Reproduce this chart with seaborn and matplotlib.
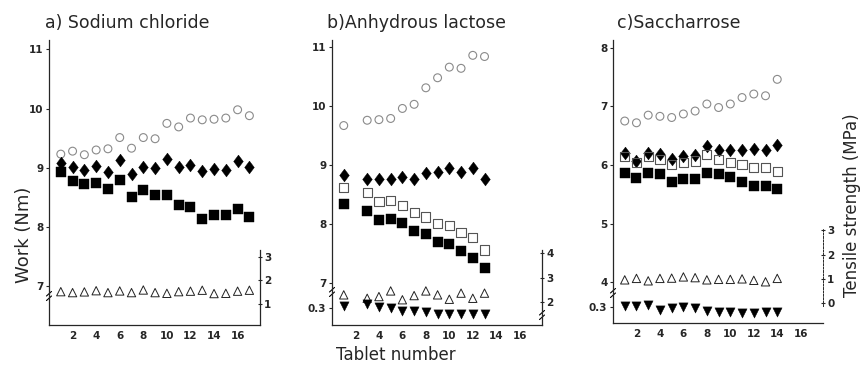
import numpy as np
import matplotlib
matplotlib.use("Agg")
import matplotlib.pyplot as plt
import seaborn as sns

# ── Data ───────────────────────────────────────────────────────
tab_a = [1, 2, 3, 4, 5, 6, 7, 8, 9, 10, 11, 12, 13, 14, 15, 16, 17]
a_circle = [9.23, 9.28, 9.22, 9.30, 9.32, 9.51, 9.33, 9.51, 9.49, 9.75, 9.69,
            9.84, 9.81, 9.82, 9.84, 9.98, 9.88]
a_diamond = [9.08, 9.02, 8.96, 9.03, 8.92, 9.13, 8.90, 9.02, 8.99, 9.15, 9.02,
             9.05, 8.94, 8.98, 8.96, 9.11, 9.02]
a_square = [8.93, 8.78, 8.72, 8.75, 8.64, 8.80, 8.51, 8.63, 8.54, 8.54, 8.37,
            8.34, 8.14, 8.20, 8.20, 8.31, 8.17]
a_tri = [1.53, 1.49, 1.52, 1.57, 1.49, 1.56, 1.49, 1.60, 1.49, 1.46, 1.53,
         1.55, 1.59, 1.45, 1.46, 1.55, 1.59]

tab_b = [1, 3, 4, 5, 6, 7, 8, 9, 10, 11, 12, 13]
b_circle = [9.67, 9.76, 9.77, 9.79, 9.96, 10.03, 10.31, 10.48, 10.66, 10.64,
            10.86, 10.84]
b_diamond = [8.83, 8.77, 8.76, 8.76, 8.79, 8.77, 8.87, 8.89, 8.95, 8.88,
             8.95, 8.77]
b_open_sq = [8.62, 8.53, 8.38, 8.40, 8.32, 8.19, 8.12, 8.01, 7.98, 7.86,
             7.77, 7.56]
b_square = [8.34, 8.23, 8.07, 8.08, 8.02, 7.88, 7.83, 7.70, 7.66, 7.54,
            7.43, 7.26]
b_tri = [2.30, 2.16, 2.23, 2.46, 2.10, 2.27, 2.46, 2.30, 2.12, 2.37, 2.16, 2.37]
b_down = [0.307, 0.313, 0.303, 0.300, 0.290, 0.292, 0.288, 0.283, 0.283,
          0.283, 0.283, 0.283]

tab_c = [1, 2, 3, 4, 5, 6, 7, 8, 9, 10, 11, 12, 13, 14]
c_circle = [6.75, 6.72, 6.85, 6.83, 6.81, 6.87, 6.92, 7.04, 6.98, 7.04, 7.15,
            7.21, 7.18, 7.46]
c_diamond = [6.20, 6.07, 6.21, 6.18, 6.11, 6.16, 6.17, 6.32, 6.25, 6.25, 6.25,
             6.27, 6.25, 6.34]
c_open_sq = [6.15, 6.04, 6.15, 6.10, 6.01, 6.04, 6.07, 6.18, 6.10, 6.05, 6.01,
             5.96, 5.96, 5.89]
c_square = [5.86, 5.78, 5.86, 5.84, 5.72, 5.76, 5.76, 5.86, 5.84, 5.80, 5.72,
            5.65, 5.65, 5.60]
c_tri = [0.96, 1.02, 0.92, 1.02, 1.03, 1.08, 1.05, 0.96, 0.98, 0.98, 1.00,
         0.94, 0.88, 1.02]
c_down = [0.302, 0.304, 0.307, 0.292, 0.297, 0.300, 0.297, 0.287, 0.284,
          0.284, 0.282, 0.282, 0.285, 0.284]

x_ticks = [2, 4, 6, 8, 10, 12, 14, 16]

# ── Style ──────────────────────────────────────────────────────
sns.set_style("white")
plt.rcParams.update({
    "font.family": "DejaVu Sans",
    "xtick.major.size": 2,
    "ytick.major.size": 2,
    "xtick.major.width": 0.8,
    "ytick.major.width": 0.8,
    "axes.linewidth": 0.9,
})

W, H = 862, 368
fig = plt.figure(figsize=(W / 100, H / 100), dpi=100)

DIAMOND = [(0, 1), (0.75, 0), (0, -1), (-0.75, 0), (0, 1)]
TICKFONT = dict(fontsize=7.5, fontweight="bold")


def rect(x0, x1, y0, y1):
    """pixel box (left, right, top, bottom) -> figure fraction rect"""
    return [x0 / W, 1 - y1 / H, (x1 - x0) / W, (y1 - y0) / H]


def pts(ax, x, y, kind):
    common = dict(ax=ax, legend=False, zorder=3)
    if kind == "circle":
        sns.scatterplot(x=x, y=y, marker="o", s=32, facecolor="none",
                        edgecolor="#8a8a8a", linewidth=0.8, **common)
    elif kind == "diamond":
        sns.scatterplot(x=x, y=y, marker=DIAMOND, s=85, color="black",
                        edgecolor="black", linewidth=0.3, **common)
    elif kind == "square":
        sns.scatterplot(x=x, y=y, marker="s", s=50, color="black",
                        edgecolor="black", linewidth=0.3, **common)
    elif kind == "open_sq":
        sns.scatterplot(x=x, y=y, marker="s", s=44, facecolor="none",
                        edgecolor="#555555", linewidth=0.8, **common)
    elif kind == "tri":
        sns.scatterplot(x=x, y=y, marker="^", s=36, facecolor="none",
                        edgecolor="#222222", linewidth=0.7, **common)
    elif kind == "down":
        sns.scatterplot(x=x, y=y, marker="v", s=44, color="black",
                        edgecolor="black", linewidth=0.3, **common)


def break_mark(ax, yfrac, side=0.0):
    kw = dict(transform=ax.transAxes, color="black", lw=0.8, clip_on=False)
    for dy in (-0.008, 0.008):
        ax.plot([side - 0.012, side + 0.012], [yfrac + dy - 0.008, yfrac + dy + 0.008], **kw)


def panel(box, wlim, wticks, tlim, tticks, tbounds, lowlim=None):
    ax = fig.add_axes(rect(*box))
    ax.set_facecolor("none")
    ax.set_xlim(0, 17.9)
    ax.set_ylim(*wlim)
    ax.set_xticks(x_ticks)
    ax.set_yticks(wticks)
    ax.set_xticklabels([str(t) for t in x_ticks], **TICKFONT)
    ax.set_yticklabels([str(t) for t in wticks], **TICKFONT)
    for s in ("top", "right"):
        ax.spines[s].set_visible(False)
    ax.tick_params(axis="both", pad=2, direction="out")
    ax.set_xlabel("")
    ax.set_ylabel("")

    axr = ax.twinx()
    axr.set_ylim(*tlim)
    axr.set_yticks(tticks)
    axr.set_yticklabels([str(t) for t in tticks], **TICKFONT)
    for s in ("top", "left", "bottom"):
        axr.spines[s].set_visible(False)
    axr.spines["right"].set_bounds(*tbounds)
    axr.tick_params(axis="y", pad=1.5, direction="inout", length=3)
    axr.set_ylabel("")

    axl = None
    if lowlim is not None:
        axl = ax.twinx()
        axl.set_ylim(*lowlim)
        axl.yaxis.tick_left()
        axl.set_yticks([0.3])
        axl.set_yticklabels(["0.3"], **TICKFONT)
        for s in axl.spines.values():
            s.set_visible(False)
        axl.tick_params(axis="y", pad=2, length=2)
        axl.set_ylabel("")
    return ax, axr, axl


# a) Sodium chloride
ax, axr, _ = panel((49, 260, 40, 325), (6.34, 11.16), [7, 8, 9, 10, 11],
                   (0.13, 12.1), [1, 2, 3], (0.13, 3.3))
pts(ax, tab_a, a_circle, "circle")
pts(ax, tab_a, a_diamond, "diamond")
pts(ax, tab_a, a_square, "square")
pts(axr, tab_a, a_tri, "tri")
break_mark(ax, (325 - 296) / 285)

# b) Anhydrous lactose
ax, axr, axl = panel((332, 542, 40, 325), (6.29, 11.12), [7, 8, 9, 10, 11],
                     (1.07, 12.7), [2, 3, 4], (1.07, 4.15),
                     lowlim=(0.249, 1.104))
pts(ax, tab_b, b_circle, "circle")
pts(ax, tab_b, b_diamond, "diamond")
pts(ax, tab_b, b_open_sq, "open_sq")
pts(ax, tab_b, b_square, "square")
pts(axr, tab_b, b_tri, "tri")
pts(axl, tab_b, b_down, "down")
break_mark(ax, (325 - 292) / 285)
break_mark(ax, (325 - 315) / 285, side=1.0)

# c) Saccharrose
ax, axr, axl = panel((613, 823, 40, 323), (3.31, 8.13), [4, 5, 6, 7, 8],
                     (-0.81, 10.8), [0, 1, 2, 3], (-0.1, 3.1),
                     lowlim=(0.252, 1.101))
axr.spines["right"].set_linestyle((0, (2, 1.5)))
axr.spines["right"].set_linewidth(0.7)
pts(ax, tab_c, c_circle, "circle")
pts(ax, tab_c, c_diamond, "diamond")
pts(ax, tab_c, c_open_sq, "open_sq")
pts(ax, tab_c, c_square, "square")
pts(axr, tab_c, c_tri, "tri")
pts(axl, tab_c, c_down, "down")
break_mark(ax, (323 - 293) / 283)

# ── Titles and axis labels ─────────────────────────────────────
fig.text(45 / W, 1 - 23 / H, "a) Sodium chloride", fontsize=12.5, va="center", ha="left")
fig.text(327 / W, 1 - 23 / H, "b)Anhydrous lactose", fontsize=12.5, va="center", ha="left")
fig.text(617 / W, 1 - 23 / H, "c)Saccharrose", fontsize=12.5, va="center", ha="left")
fig.text(24 / W, 1 - 235 / H, "Work (Nm)", fontsize=13, rotation=90,
         va="center", ha="center")
fig.text(852 / W, 1 - 205 / H, "Tensile strength (MPa)", fontsize=12, rotation=90,
         va="center", ha="center")
fig.text(396 / W, 1 - 355 / H, "Tablet number", fontsize=12, va="center", ha="center")

fig.savefig("out.png", dpi=100)
